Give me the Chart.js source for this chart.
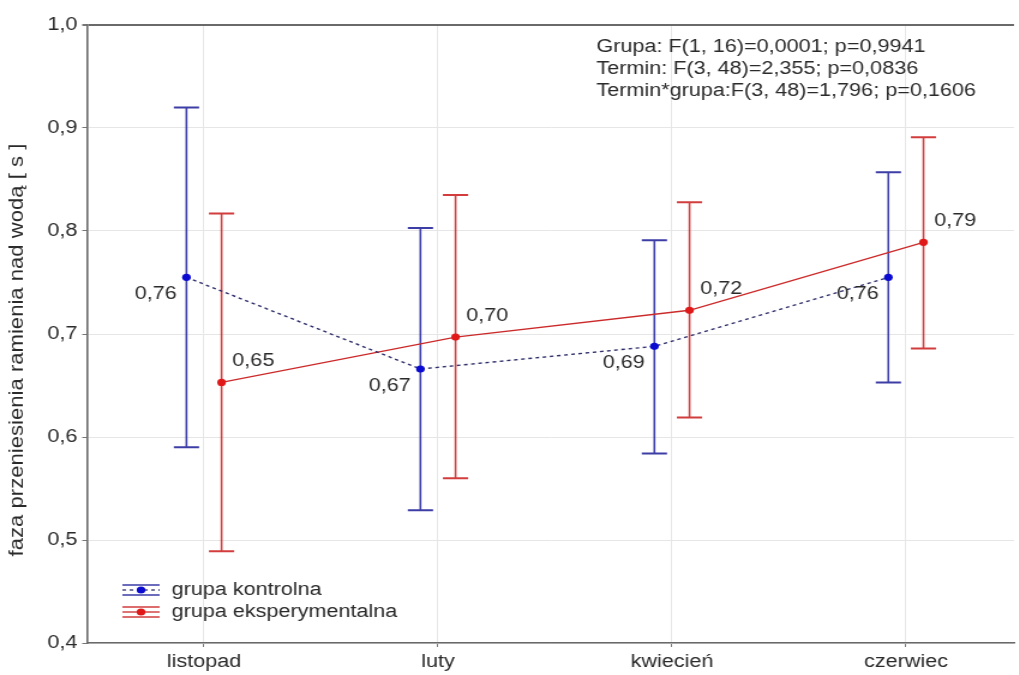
<!DOCTYPE html>
<html lang="pl">
<head>
<meta charset="utf-8">
<title>Faza przeniesienia ramienia nad wodą</title>
<script src="https://cdn.jsdelivr.net/npm/chart.js@4.4.1/dist/chart.umd.min.js"></script>
<style>
  html, body { margin: 0; padding: 0; background: #fff; overflow: hidden; }
  /* the reference picture is stretched sideways, so the canvas is too */
  #wrap { width: 849px; height: 675px; transform: scaleX(1.2); transform-origin: 0 0; }
</style>
</head>
<body>
<div id="wrap"><canvas id="chart" width="849" height="675"></canvas></div>
<script>
// Terms and tick values
const terms = ["listopad", "luty", "kwiecień", "czerwiec"];
const yTickValues = [0.4, 0.5, 0.6, 0.7, 0.8, 0.9, 1.0];

// grupa kontrolna: means and error bar ends
const controlMean = [0.755, 0.666, 0.688, 0.755];
const controlLow = [0.590, 0.529, 0.584, 0.653];
const controlHigh = [0.920, 0.803, 0.791, 0.857];

// grupa eksperymentalna
const expMean = [0.653, 0.697, 0.723, 0.789];
const expLow = [0.489, 0.560, 0.619, 0.686];
const expHigh = [0.817, 0.835, 0.828, 0.891];

const seriesNames = ["grupa kontrolna", "grupa eksperymentalna"];
const statsLines = [
  "Grupa: F(1, 16)=0,0001; p=0,9941",
  "Termin: F(3, 48)=2,355; p=0,0836",
  "Termin*grupa:F(3, 48)=1,796; p=0,1606"
];
const yTitle = "faza przeniesienia ramienia nad wodą [ s ]";

const FONT = "'Liberation Sans', Arial, sans-serif";
const shift = 0.075; // groups are drawn side by side around each term

const series = [
  { name: seriesNames[0], mean: controlMean, low: controlLow, high: controlHigh, dir: -1,
    line: "#2e2e6a", dash: [3, 3], point: "#0a0ad0", bar: "#3d3da6", labelSide: "left" },
  { name: seriesNames[1], mean: expMean, low: expLow, high: expHigh, dir: 1,
    line: "#cc2a2a", dash: [], point: "#e01818", bar: "#d23c3c", labelSide: "right" }
];

function fmt(v, d) {
  return v.toFixed(d).replace(".", ",");
}

// error bars, under the lines
const errorBars = {
  id: "errorBars",
  beforeDatasetsDraw(chart) {
    const { ctx, scales: { x, y } } = chart;
    ctx.save();
    series.forEach(s => {
      ctx.strokeStyle = s.bar;
      s.mean.forEach((m, i) => {
        const px = x.getPixelForValue(i + s.dir * shift);
        const top = y.getPixelForValue(s.high[i]);
        const bot = y.getPixelForValue(s.low[i]);
        ctx.lineWidth = 1.6;
        ctx.beginPath();
        ctx.moveTo(px, top); ctx.lineTo(px, bot);
        ctx.stroke();
        ctx.lineWidth = 2;
        ctx.beginPath();
        ctx.moveTo(px - 10.5, top); ctx.lineTo(px + 10.5, top);
        ctx.moveTo(px - 10.5, bot); ctx.lineTo(px + 10.5, bot);
        ctx.stroke();
      });
    });
    ctx.restore();
  }
};

// value labels, stats text, legend and the y title
const extras = {
  id: "extras",
  afterDraw(chart) {
    const { ctx, chartArea, scales: { x, y } } = chart;
    ctx.save();
    ctx.font = "18px " + FONT;
    ctx.fillStyle = "#2a2a2a";
    ctx.textBaseline = "middle";

    series.forEach(s => {
      s.mean.forEach((m, i) => {
        const px = x.getPixelForValue(i + s.dir * shift);
        const py = y.getPixelForValue(m);
        if (s.labelSide === "left") {
          ctx.textAlign = "right";
          ctx.fillText(fmt(m, 2), px - 8, py + 17);
        } else {
          ctx.textAlign = "left";
          ctx.fillText(fmt(m, 2), px + 9, py - 21);
        }
      });
    });

    ctx.textAlign = "left";
    statsLines.forEach((t, i) => ctx.fillText(t, 497, 47 + i * 22));

    // legend in the lower left corner
    series.forEach((s, i) => {
      const ly = 590 + i * 22;
      const lx = 102;
      ctx.strokeStyle = s.bar;
      ctx.lineWidth = 1.3;
      ctx.beginPath();
      ctx.moveTo(lx, ly - 5); ctx.lineTo(lx + 31, ly - 5);
      ctx.moveTo(lx, ly + 5); ctx.lineTo(lx + 31, ly + 5);
      ctx.stroke();
      ctx.strokeStyle = s.line;
      ctx.setLineDash(s.dash);
      ctx.beginPath();
      ctx.moveTo(lx, ly); ctx.lineTo(lx + 31, ly);
      ctx.stroke();
      ctx.setLineDash([]);
      ctx.fillStyle = s.point;
      ctx.beginPath();
      ctx.arc(lx + 15.5, ly, 3.6, 0, Math.PI * 2);
      ctx.fill();
      ctx.fillStyle = "#2a2a2a";
      ctx.fillText(s.name, 143, ly);
    });

    // rotated axis title, drawn a bit longer than its font as in the picture
    ctx.translate(14, (chartArea.top + chartArea.bottom) / 2 + 16);
    ctx.rotate(-Math.PI / 2);
    ctx.scale(1.3, 1);
    ctx.textAlign = "center";
    ctx.font = "17px " + FONT;
    ctx.fillText(yTitle, 0, 0);
    ctx.restore();
  }
};

const datasets = series.map(s => ({
  label: s.name,
  data: s.mean.map((m, i) => ({ x: i + s.dir * shift, y: m })),
  borderColor: s.line,
  borderWidth: 1.4,
  borderDash: s.dash,
  pointRadius: 3.6,
  pointBackgroundColor: s.point,
  pointBorderWidth: 0,
  tension: 0
}));

new Chart(document.getElementById("chart"), {
  type: "line",
  data: { datasets },
  plugins: [errorBars, extras],
  options: {
    responsive: false,
    animation: false,
    layout: { padding: { top: 25, left: 0, right: 0, bottom: 0 } },
    plugins: { legend: { display: false }, tooltip: { enabled: false } },
    scales: {
      x: {
        type: "linear",
        min: -0.5,
        max: 3.462,
        afterBuildTicks: s => { s.ticks = terms.map((t, i) => ({ value: i })); },
        afterFit: s => { s.height = 32; },
        ticks: {
          callback: v => terms[v] ?? "",
          color: "#2a2a2a",
          font: { family: FONT, size: 18 },
          padding: 4,
          maxRotation: 0
        },
        grid: { color: "#e6e6e6", tickColor: "#777", tickLength: 4 },
        border: { color: "#6a6a6a", width: 1.6 }
      },
      y: {
        min: 0.4,
        max: 1.0,
        afterBuildTicks: s => { s.ticks = yTickValues.map(v => ({ value: v })); },
        afterFit: s => { s.width = 72.5; },
        ticks: {
          callback: v => fmt(v, 1),
          color: "#2a2a2a",
          font: { family: FONT, size: 18 },
          padding: 4
        },
        grid: {
          color: c => (c.tick && c.tick.value === 1.0 ? "#6a6a6a" : "#e6e6e6"),
          lineWidth: c => (c.tick && c.tick.value === 1.0 ? 2 : 1),
          tickColor: "#777",
          tickLength: 4
        },
        border: { color: "#6a6a6a", width: 1.6 }
      }
    }
  }
});
</script>
</body>
</html>
